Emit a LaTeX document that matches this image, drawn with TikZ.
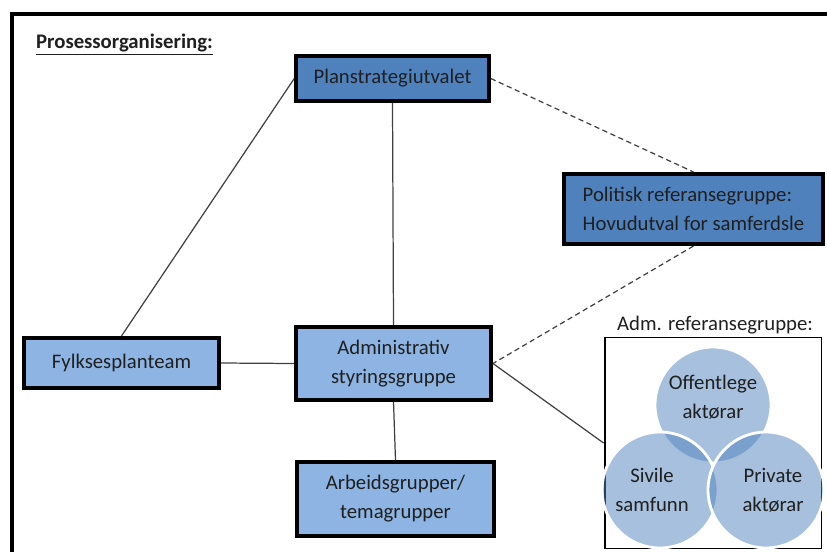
\documentclass[tikz,border=0pt]{standalone}
\usepackage{fontspec}
\setmainfont{Carlito}
\usepackage{tikz}

\definecolor{darkbox}{RGB}{79,129,189}
\definecolor{lightbox}{RGB}{141,180,226}
\definecolor{venn}{RGB}{79,129,189}

\begin{document}
\begin{tikzpicture}
	[x=0.02cm,y=-0.02cm,
	every node/.style={font=\fontsize{11.8}{16.5}\selectfont,text=black!88},
	unit/.style={draw=black,line width=2.3pt,align=center,inner sep=2pt},
	upper/.style={unit,fill=darkbox},
	lower/.style={unit,fill=lightbox},
	link/.style={draw=black!75,line width=0.7pt},
	loose/.style={link,dash pattern=on 3pt off 2pt}]
	\useasboundingbox (0,0) rectangle (827,551);
	\clip (0,0) rectangle (827,551);
	\draw[line width=1.8pt] (12,570) -- (12,14) -- (850,14);
	
	\node[anchor=west] (title) at (30,45) {\underline{\textbf{Prosessorganisering:}}};
	
	\node[upper,minimum width=3.85cm,minimum height=0.9cm] (plan) at (392.5,78.5) {Planstrategiutvalet};
	\node[upper,minimum width=5.17cm,minimum height=1.4cm,align=left] (pol) at (693.5,209) {Politisk referansegruppe:\\Hovudutval for samferdsle};
	\node[lower,minimum width=3.9cm,minimum height=1.0cm] (fylke) at (121.5,363) {Fylksesplanteam};
	\node[lower,minimum width=3.9cm,minimum height=1.45cm] (adm) at (393.5,363.5) {Administrativ\\styringsgruppe};
	\node[lower,minimum width=3.94cm,minimum height=1.47cm] (arb) at (395.5,499) {Arbeidsgrupper/\\temagrupper};
	\node[draw=black,line width=1.1pt,minimum width=4.34cm,minimum height=4.22cm] (ref) at (713,443) {};
	\node (reflabel) at (715,325) {Adm. referansegruppe:};
	
	% venn circles
	\foreach \cx/\cy in {713/405,660/490,766/490}
	\draw[white,line width=1.6pt,fill=venn,fill opacity=0.5] (\cx,\cy) circle (1.16cm);
	\node[align=center] (offentleg) at (713,397) {Offentlege\\aktørar};
	\node[align=center] (sivil) at (652,490) {Sivile\\samfunn};
	\node[align=center] (privat) at (773,490) {Private\\aktørar};
	
	\foreach \from/\to in {plan.west/fylke.north,plan.south/adm.north,fylke.east/adm.west,adm.south/arb.north,adm.east/ref.west}
	\draw[link] (\from) -- (\to);
	\foreach \from/\to in {plan.east/pol.north,pol.south/adm.east}
	\draw[loose] (\from) -- (\to);
\end{tikzpicture}
\end{document}
